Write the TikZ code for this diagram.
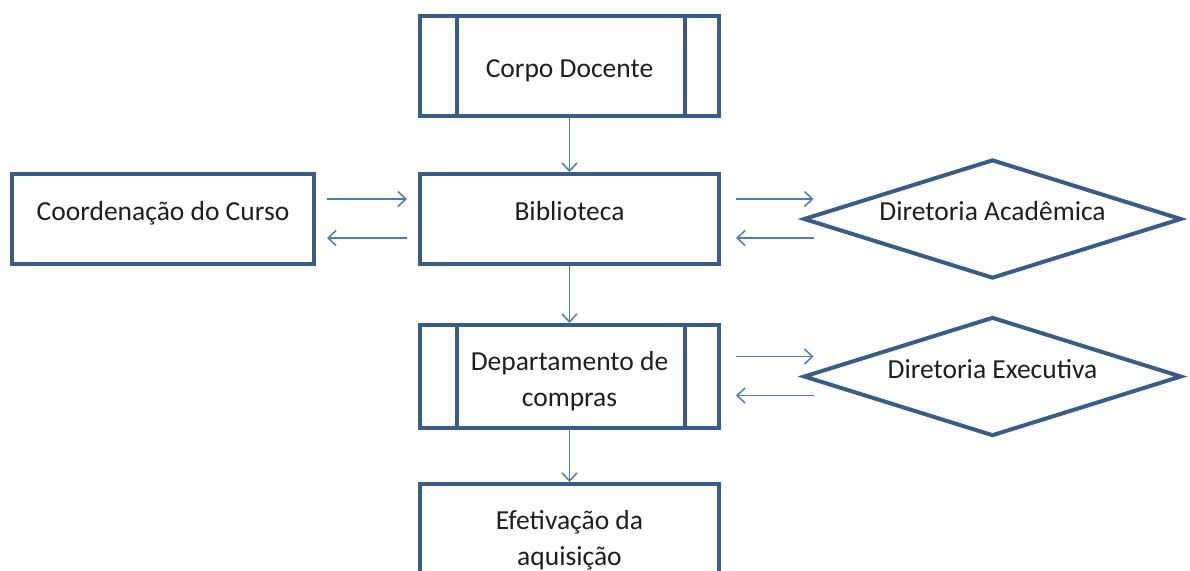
\documentclass[tikz,border=0pt]{standalone}
\usepackage{fontspec}
\setmainfont{Carlito}
\usetikzlibrary{arrows.meta}
\usetikzlibrary{shapes.geometric}
\definecolor{boxblue}{HTML}{385D8A}
\definecolor{arrowblue}{HTML}{4A7EBB}
\definecolor{textgray}{HTML}{1E1E1E}

\begin{document}
\begin{tikzpicture}[x=1pt,y=-1pt,
        every node/.style={font=\fontsize{27.5}{36}\selectfont,text=textgray},
        caixa/.style={draw=boxblue,line width=4pt,rectangle,minimum width=299pt,inner sep=0pt,align=center},
        subproc/.style={caixa,path picture={
            \draw[boxblue,line width=4pt] ([xshift=37pt]path picture bounding box.north west) -- ([xshift=37pt]path picture bounding box.south west);
            \draw[boxblue,line width=4pt] ([xshift=-34pt]path picture bounding box.north east) -- ([xshift=-34pt]path picture bounding box.south east);}},
        decisao/.style={draw=boxblue,line width=4pt,diamond,aspect=3.2,inner sep=0pt,minimum width=378pt,minimum height=119pt},
        sobe/.style={text depth=16pt},
        desce/.style={text height=28pt},
        desce2/.style={text height=65pt},
        seta/.style={->,draw=arrowblue,line width=1.5pt},
        >={Straight Barb[length=8pt,width=15pt]}]
        \useasboundingbox (0,0) rectangle (1190,570);
        \node[subproc,desce,minimum height=100pt] (corpo) at (569.5,66) {Corpo Docente};
        \node[caixa,sobe,minimum height=90pt] (bib) at (569.5,219) {Biblioteca};
        \node[caixa,sobe,minimum width=302pt,minimum height=90pt] (coord) at (163,219) {Coordenação do Curso};
        \node[decisao,sobe] (dirac) at (992.5,219) {Diretoria Acadêmica};
        \node[subproc,desce2,minimum height=103pt] (compras) at (569.5,376.5) {Departamento de\\compras};
        \node[decisao,sobe] (direx) at (992.5,376.5) {Diretoria Executiva};
        \node[caixa,desce2,minimum height=103pt] (efet) at (569.5,535.5) {Efetivação da\\aquisição};
        \draw[seta] (corpo) -- (bib);
        \draw[seta] (bib) -- (compras);
        \draw[seta] (compras) -- (efet);
        \foreach \a/\b/\p/\q in {coord/bib/11/-11,bib/dirac/15/12,compras/direx/15/12}{
            \draw[seta] ([xshift=\p pt,yshift=20pt]\a.east) -- ([xshift=\q pt,yshift=20pt]\b.west);
            \draw[seta] ([xshift=\q pt,yshift=-19pt]\b.west) -- ([xshift=\p pt,yshift=-19pt]\a.east);
        };
    \end{tikzpicture}
\end{document}
